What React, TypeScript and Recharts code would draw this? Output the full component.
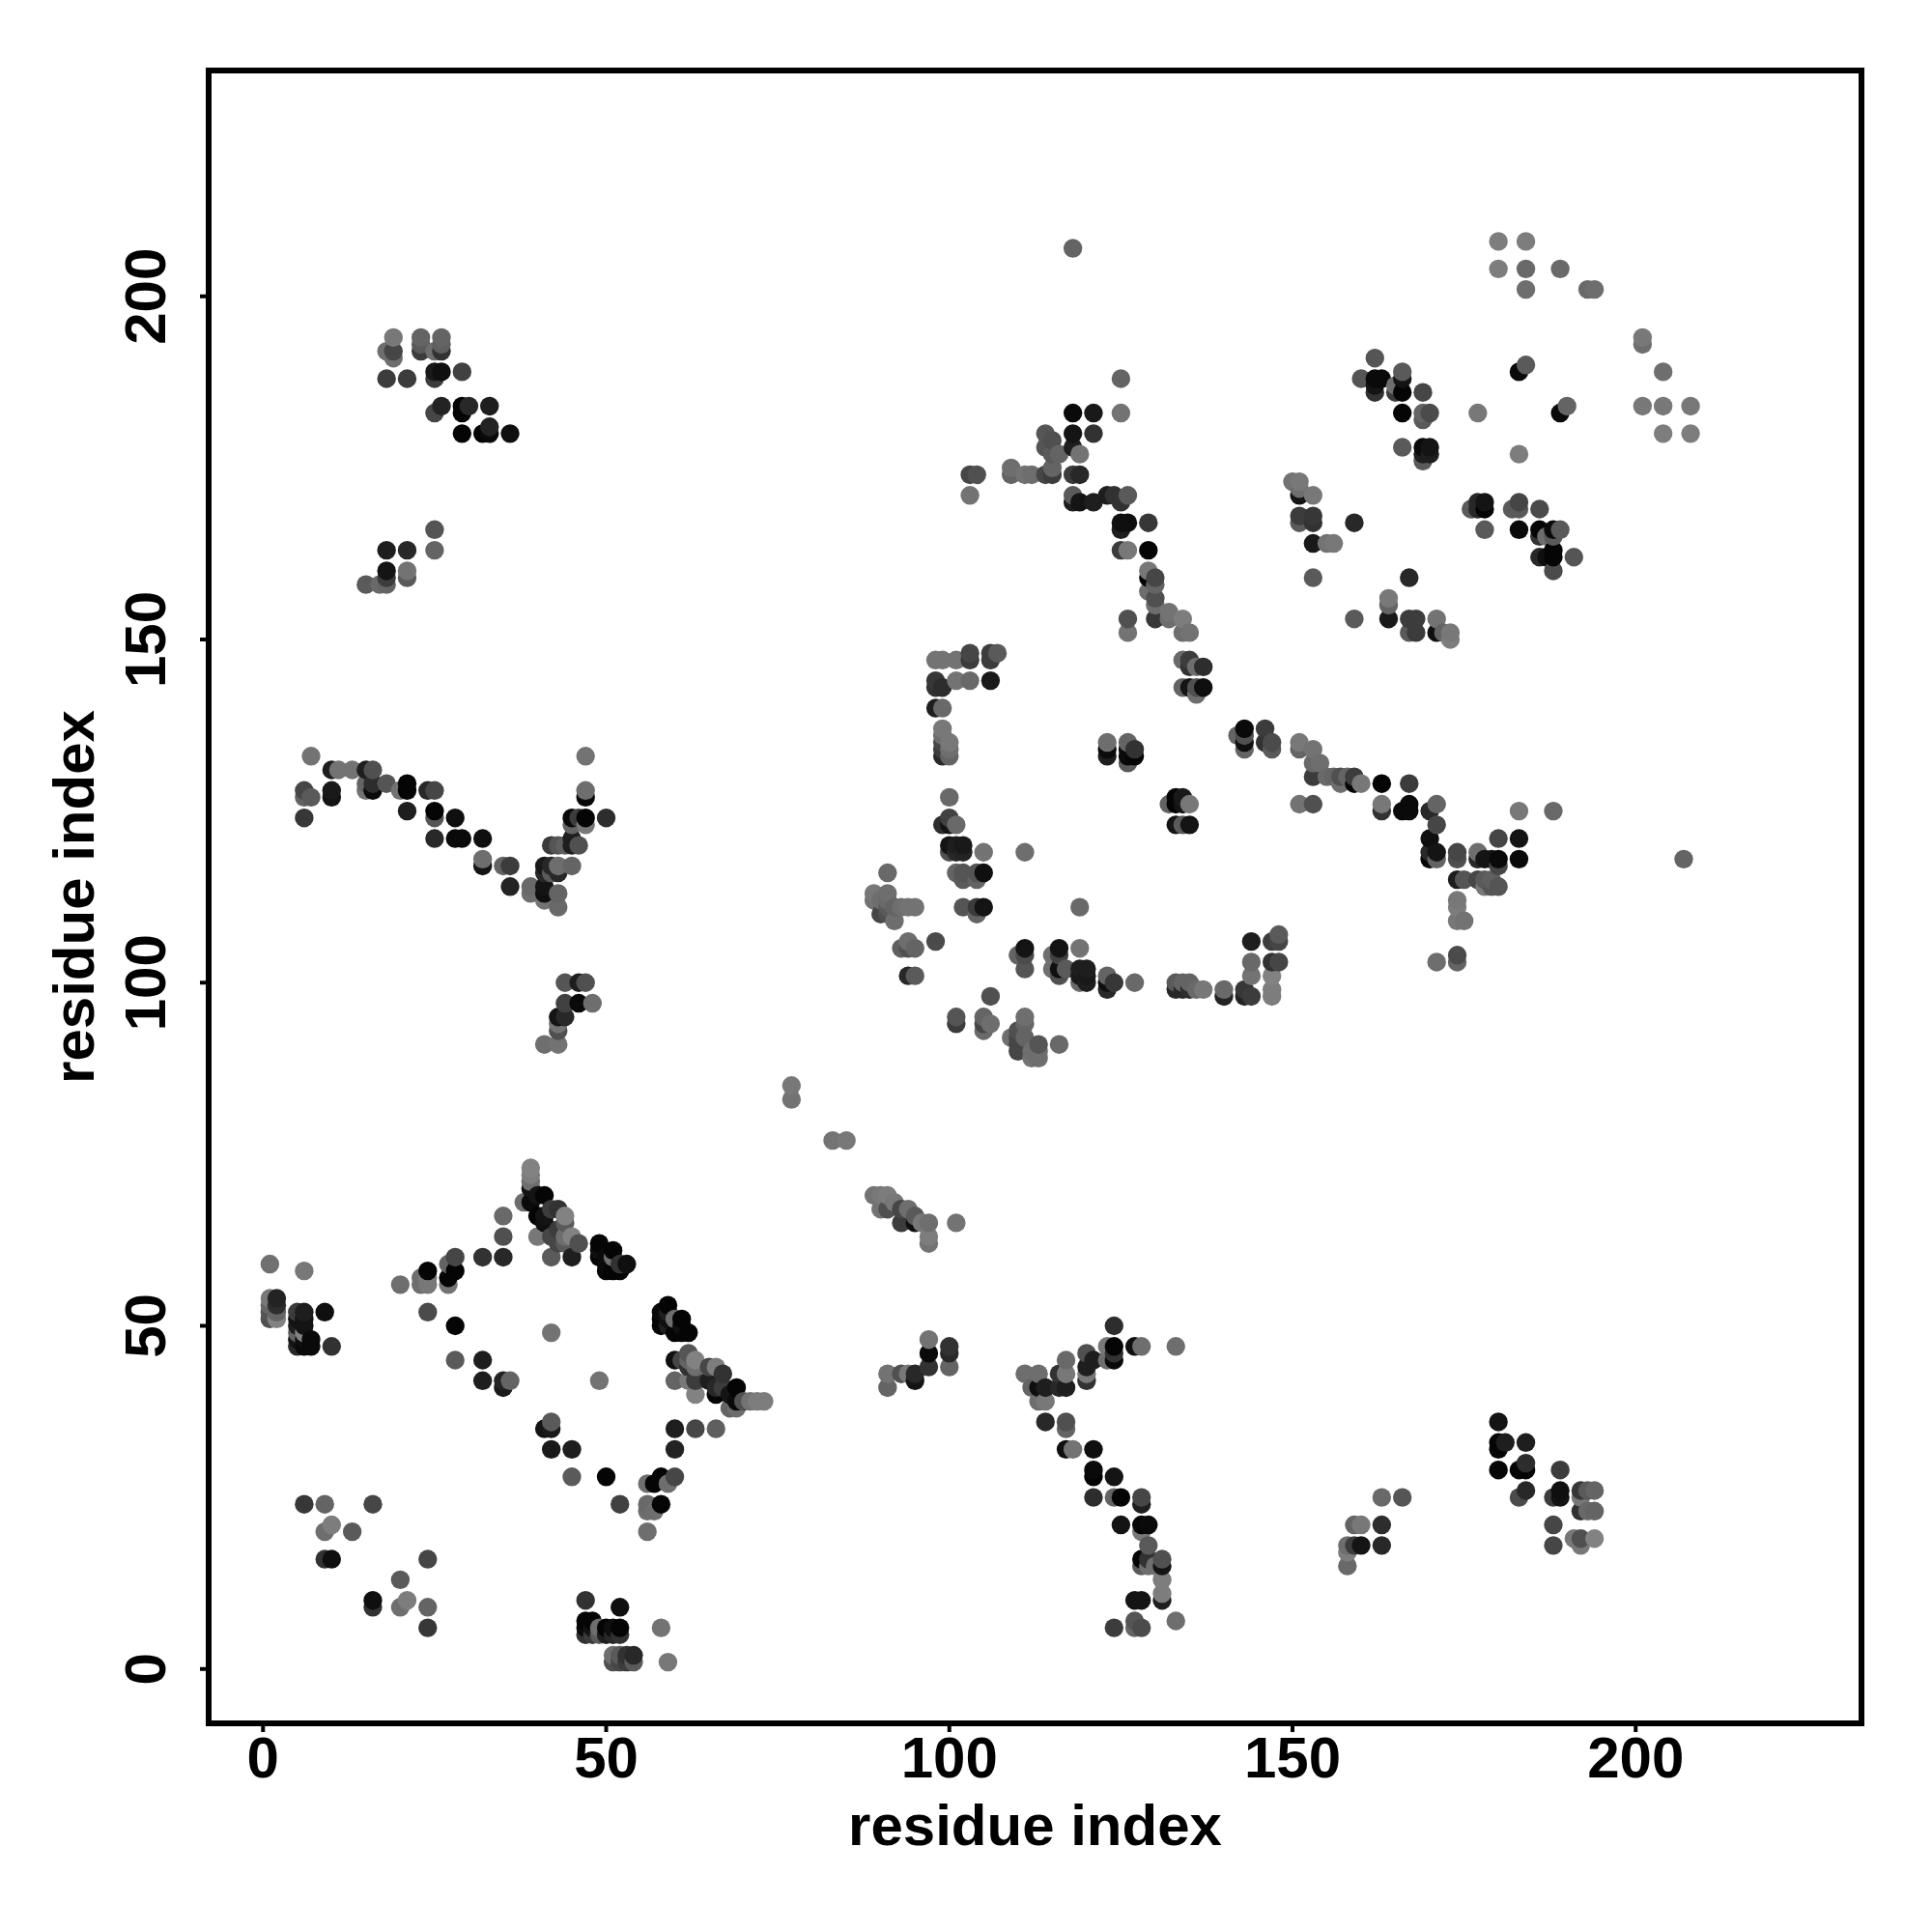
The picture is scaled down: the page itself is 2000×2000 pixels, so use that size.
import React from 'react';
import { ScatterChart, Scatter, XAxis, YAxis, ReferenceArea } from 'recharts';

type Contact = [number, number, number]; // residue i, residue j, grey level

const axisTicks = [0, 50, 100, 150, 200];
const domain: [number, number] = [-7.92, 232.9];

const bottomLeft: Contact[] = [
  [1,59,112],[6,58,120],[1,54,120],[1,53,100],[1,52,85],[1,51,80],[2,51,130],[2,52,100],[2,53,45],[2,54,35],
  [5,52,60],[6,52,30],[5,51,20],[6,51,20],[5,50,30],[6,50,20],[5,49,100],[5,48,20],[6,49,130],[5,47,40],[6,47,10],[7,48,10],[7,47,10],[6,48,15],
  [9,52,15],[10,47,50],[20,56,110],[23,56,110],[24,56,120],[23,57,110],[24,58,5],[24,57,120],[27,56,115],[27,57,5],[27,59,100],[28,58,5],[28,60,70],
  [24,52,75],[28,50,5],[28,45,90],[32,45,30],[32,42,30],[35,42,35],[35,41,25],[36,42,100],[32,60,50],[35,60,40],[35,63,80],[35,66,105],
  [40,63,120],[42,60,90],[42,49,115],[41,35,20],[42,36,90],[42,35,25],[42,32,25],
  [6,24,55],[9,24,100],[16,24,70],[9,20,110],[10,21,125],[13,20,90],[9,16,50],[10,16,15],[24,16,70],[20,13,90],[16,10,15],[16,9,50],[20,9,110],[21,10,125],[24,9,100],[24,6,55],
];

const firstStrand: Contact[] = [
  [39,73,130],[39,72,125],[39,71,110],[39,70,20],[38,68,110],[39,68,10],[40,69,20],[41,69,5],[40,66,5],[42,67,60],[43,67,50],[44,66,130],[44,65,90],[41,65,15],[42,63,70],[44,62,90],[45,63,130],[46,62,80],[45,60,30],[43,64,60],[41,66,20],[44,63,110],[43,62,70],
  [49,62,5],[49,61,15],[51,61,5],[49,60,5],[50,60,10],[51,60,110],[50,58,5],[51,58,5],[52,58,5],[52,59,50],[53,59,15],[50,59,10],
  [49,42,115],[59,53,5],[58,52,10],[58,50,5],[59,52,30],[59,51,15],[60,51,110],[61,51,5],[60,49,5],[61,49,5],[62,49,5],[58,51,5],[59,50,30],[61,50,15],
  [60,45,15],[62,46,85],[61,45,70],[62,45,100],[63,45,130],[63,44,110],[62,44,50],[60,42,100],[62,42,120],[63,42,60],[63,40,130],[65,44,70],[66,44,125],[67,43,50],[65,42,30],[66,41,40],[66,40,5],[69,41,5],[67,41,60],[68,40,20],[68,38,100],[69,38,110],[69,39,10],[70,39,80],[71,39,115],[72,39,125],[73,39,125],
  [60,35,30],[63,35,70],[66,35,95],[60,32,35],[45,32,30],[45,28,90],[50,28,5],[56,27,110],[58,28,5],[57,27,5],[59,27,110],[60,28,70],[52,24,65],[56,24,105],[56,23,110],[57,23,110],[58,24,5],[56,20,110],
  [47,10,50],[52,9,15],[47,7,5],[47,6,10],[47,5,50],[48,7,5],[48,6,20],[48,5,60],[49,6,110],[49,5,90],[50,6,5],[50,5,30],[51,6,15],[51,5,40],[52,6,5],[52,5,50],[58,6,115],
  [51,2,110],[51,1,80],[52,2,90],[52,1,70],[53,2,50],[53,1,60],[54,2,40],[54,1,90],[59,1,120],
];

const diagonalBand: Contact[] = [
  [89,69,115],[90,69,120],[91,69,125],[90,67,115],[91,67,80],[92,68,120],[93,67,70],[93,65,60],[94,67,110],[95,65,15],[95,66,90],[96,65,120],[97,62,115],[97,63,125],[97,65,110],[101,65,115],
  [83,77,115],[85,77,120],[77,85,120],[77,83,115],
  [91,43,115],[91,41,100],[93,43,80],[94,43,120],[95,43,40],[95,42,20],[97,48,115],[97,46,10],[97,44,50],[100,47,50],[100,46,40],[100,44,100],
];

const bottomRight: Contact[] = [
  [124,50,45],[124,47,5],[123,47,120],[123,45,110],[124,46,50],[124,45,10],[127,47,15],[128,47,110],[133,47,110],
  [120,46,80],[120,44,30],[121,45,30],[120,43,120],[120,42,50],[117,45,105],[116,43,50],[117,43,120],[117,41,30],[116,41,40],
  [111,43,110],[113,43,110],[112,41,100],[113,41,15],[114,41,30],[113,39,110],[114,39,120],[114,36,40],[117,36,80],[117,35,100],
  [117,32,15],[118,32,115],[121,32,15],[121,29,10],[121,28,5],[124,28,20],[121,25,45],[124,25,100],[125,25,5],[128,25,70],[128,24,30],
  [125,21,20],[128,21,5],[129,21,10],[128,20,120],[129,18,90],[128,16,5],[129,16,50],[128,15,90],[129,15,110],[131,16,80],[131,15,20],[130,15,110],
  [131,13,125],[131,11,125],[131,10,30],[127,10,20],[128,10,20],[133,7,110],[127,7,85],[127,6,100],[128,6,75],[124,6,60],
  [180,36,20],[180,33,5],[181,33,30],[180,32,5],[184,33,30],[180,29,5],[183,29,5],[184,29,5],[184,30,45],[184,26,40],[183,25,75],[189,29,60],[189,26,15],[188,25,60],[189,25,20],
  [192,26,55],[193,26,90],[194,26,100],[192,25,120],[192,23,50],[193,23,105],[194,23,100],[188,21,70],[188,18,70],[191,19,120],[192,19,80],[192,18,120],[194,19,130],
  [163,25,105],[166,25,85],[159,21,100],[160,21,120],[163,21,45],[158,18,110],[159,18,60],[160,18,20],[163,18,40],[158,17,125],[158,15,105],
];

const leftMiddle: Contact[] = [
  [7,133,115],[10,131,30],[11,131,115],[13,131,115],[15,131,30],[16,131,80],[6,128,70],[6,127,100],[7,127,90],[6,124,55],[10,128,25],[10,127,20],
  [15,129,100],[15,128,115],[16,129,45],[16,128,10],[18,129,85],[20,128,115],[21,129,5],[21,128,5],[21,125,30],
  [24,128,40],[25,128,70],[25,125,5],[25,124,85],[28,124,15],[25,121,40],[28,121,10],[29,121,10],[32,121,15],[32,117,20],[32,118,110],[35,117,100],[36,117,60],[36,114,35],
  [39,114,105],[39,113,110],[41,117,25],[42,117,40],[41,116,40],[42,116,90],[43,117,110],[43,116,40],[45,117,100],[41,114,20],[41,113,15],[41,112,115],[43,113,100],[43,111,105],
  [42,120,60],[43,120,85],[44,120,95],[45,121,30],[45,120,30],[46,120,80],[45,124,10],[46,124,60],[47,124,5],[45,123,100],[47,123,120],[50,124,45],[47,128,110],[47,127,10],[47,133,115],
  [44,100,85],[46,100,30],[47,100,80],[44,97,65],[46,97,10],[48,97,110],[43,95,20],[44,95,40],[43,94,115],[43,93,80],[41,91,110],[43,91,115],
];

const centralLoop: Contact[] = [
  [98,147,115],[99,147,115],[101,147,115],[103,148,70],[103,147,60],[106,148,60],[107,148,90],[106,147,60],
  [98,144,55],[98,143,50],[99,143,45],[101,144,115],[103,144,105],[106,144,25],[98,140,30],[99,140,105],
  [99,137,120],[99,136,110],[99,135,70],[99,134,60],[99,133,40],[100,135,120],[100,134,110],[100,133,100],
  [100,127,105],[100,124,65],[99,123,45],[100,123,20],[101,123,105],[100,120,20],[101,120,30],[102,120,25],[100,119,80],[101,119,40],[102,119,35],[105,119,115],[111,119,110],
  [102,116,85],[101,116,100],[102,115,90],[104,116,85],[105,116,15],[104,115,100],[102,111,85],[104,111,60],[105,111,20],[104,110,100],[119,111,105],
  [91,116,105],[89,113,120],[91,113,110],[89,112,115],[90,112,110],[91,112,105],[90,110,70],[91,111,90],[92,111,100],[92,109,110],[93,111,110],[94,111,115],[95,111,115],[91,110,80],
  [94,106,110],[93,105,95],[94,105,80],[95,105,100],[98,106,75],[94,101,40],[95,101,90],
  [111,105,20],[111,104,75],[110,104,100],[111,102,85],[116,105,20],[115,104,110],[116,104,65],[119,105,115],[115,102,110],[116,102,15],[116,101,80],[117,102,90],
  [119,102,30],[120,102,30],[119,101,25],[120,101,25],[119,100,105],[120,100,30],[123,101,100],[123,100,15],[123,99,40],[124,100,55],[127,100,105],
  [106,98,80],[101,95,85],[101,94,60],[105,95,100],[105,94,70],[106,94,110],[105,93,105],
  [111,95,110],[111,94,100],[110,93,80],[109,92,110],[110,92,70],[110,91,70],[111,92,100],[110,90,70],[112,90,110],[113,91,85],[112,89,115],[113,89,110],[113,90,110],[116,91,105],
  [133,100,90],[133,99,40],[134,100,100],[134,99,40],[135,100,100],[135,99,45],[136,99,105],[137,99,120],[140,99,105],[140,98,35],[143,99,55],[143,98,35],[144,98,60],[144,106,30],[144,103,105],[144,101,115],
  [147,106,60],[148,107,90],[148,106,70],[147,103,50],[148,103,70],[147,101,130],[147,99,125],[147,98,125],
];

const upperBridge: Contact[] = [
  [125,183,115],[125,188,100],[124,171,50],[126,171,90],[125,170,50],[125,167,15],[126,167,15],[125,166,30],[129,167,55],[125,163,60],[126,163,120],[129,163,5],
  [129,160,120],[129,159,5],[130,159,70],[129,157,110],[130,158,100],[130,156,80],[130,155,110],[130,153,55],[132,154,115],[132,153,110],[134,153,125],[134,151,110],[135,151,115],[126,153,80],[126,151,115],
  [134,147,105],[135,147,60],[135,146,50],[136,146,110],[137,146,45],[134,143,100],[135,143,20],[136,143,80],[137,143,15],[136,142,110],
  [143,137,10],[142,136,100],[143,136,80],[143,135,15],[143,134,100],[146,137,60],[146,135,50],[147,135,75],[147,134,90],
  [151,135,120],[151,134,100],[153,134,115],[153,132,105],[154,132,110],[153,130,60],[155,130,105],[156,130,100],[157,130,80],[157,129,110],[158,130,100],[159,130,60],[159,129,5],[160,129,120],[163,129,5],[167,129,60],
  [123,135,110],[123,134,10],[123,133,30],[126,135,100],[126,134,10],[126,133,10],[126,132,90],[127,134,50],[127,133,5],
  [132,126,100],[133,127,5],[134,127,25],[133,126,5],[135,126,120],[134,126,20],[133,123,20],[135,123,20],[134,123,90],
  [151,126,115],[153,126,80],[163,126,120],[163,125,50],[166,125,10],[167,126,10],[167,125,10],[170,125,40],[171,126,100],[171,123,70],
  [170,121,15],[170,119,40],[170,118,5],[171,119,20],[171,118,100],[174,119,70],[174,118,80],[177,119,110],[177,118,40],[178,118,20],[179,118,20],[180,118,10],[180,117,70],[180,121,70],[183,121,20],[183,118,10],
  [174,115,30],[175,115,85],[177,115,70],[178,115,90],[178,114,120],[179,115,95],[179,114,85],[180,114,85],[174,112,120],[174,111,125],[174,109,120],[175,109,115],[174,104,75],[174,103,100],[171,103,110],[183,125,120],[188,125,105],[207,118,100],
];

const topCentre: Contact[] = [
  [118,207,100],[118,183,10],[121,183,25],[121,180,50],[118,180,20],[118,178,30],[119,177,115],[114,180,85],[114,178,85],[115,177,90],[115,174,60],[118,174,60],[119,174,40],[118,171,90],[119,170,20],[121,170,30],[118,170,30],[123,171,30],[114,174,70],
  [104,174,80],[103,174,70],[103,171,115],[109,175,110],[109,174,100],[111,174,115],[112,174,110],[116,177,100],[115,175,100],[115,179,80],
];

const topRight: Contact[] = [
  [162,191,85],[160,188,85],[162,188,10],[163,188,10],[162,187,20],[162,186,50],[165,187,110],[165,186,60],[166,189,90],[166,188,20],[166,186,5],[169,186,70],
  [166,183,5],[169,183,100],[169,182,90],[170,183,75],[166,178,90],[169,178,10],[170,178,20],[169,177,30],[170,177,30],[169,176,90],
  [183,189,10],[184,190,90],[177,183,120],[189,183,10],[190,184,100],[183,177,125],
  [176,169,90],[177,170,40],[178,170,20],[177,169,40],[178,169,5],[182,169,90],[183,170,70],[183,169,90],[186,169,75],
  [178,166,90],[183,166,10],[186,166,5],[186,165,50],[187,165,110],[188,166,10],[189,166,90],[188,165,90],[186,162,40],[187,162,15],[188,162,5],[188,163,5],[191,162,85],[188,160,75],
  [150,173,115],[151,173,120],[151,172,110],[151,171,20],[153,171,120],[151,168,60],[153,168,55],[151,167,90],[153,167,50],[159,167,40],[153,164,25],[155,164,115],[156,164,120],[153,159,90],
  [159,153,90],[164,156,120],[164,155,100],[164,153,25],[167,159,40],[167,153,60],[168,153,60],[167,151,90],[168,151,60],[171,153,115],[171,151,15],[172,151,100],[173,151,120],[173,150,125],
  [180,208,125],[184,208,125],[180,204,125],[184,204,105],[184,201,110],[189,204,105],[193,201,105],[194,201,110],[201,194,120],[201,193,110],[204,189,110],[201,184,120],[204,184,120],[208,184,120],[204,180,125],[208,180,125],
];

const topLeft: Contact[] = [
  [19,194,120],[18,192,110],[19,192,70],[19,191,110],[23,194,100],[23,193,90],[23,192,60],[25,192,110],[26,194,100],[26,193,95],[26,192,50],
  [18,188,60],[21,188,60],[25,189,25],[26,189,15],[25,188,60],[29,189,65],[26,184,35],[25,183,70],[29,184,5],[29,183,5],[30,184,40],[33,184,30],
  [29,180,5],[32,180,5],[33,181,35],[33,180,10],[36,180,15],[25,166,85],[25,163,100],[18,163,30],[21,163,40],[18,160,20],[18,159,60],[21,160,115],[21,159,90],[18,158,100],[17,158,105],[15,158,90],
];

// points were plotted ordered by i then j, so later ones sit on top
const contacts = [...bottomLeft, ...firstStrand, ...diagonalBand, ...bottomRight, ...leftMiddle, ...centralLoop, ...upperBridge, ...topCentre, ...topRight, ...topLeft]
  .map(([x, y, shade]) => ({ x, y, shade }))
  .sort((a, b) => a.x - b.x || a.y - b.y);

const font = '"Liberation Sans", Arial, sans-serif';

const Dot = (props: any) => {
  const g = props.payload.shade;
  return <circle cx={props.cx} cy={props.cy} r={9.7} fill={`rgb(${g},${g},${g})`} />;
};

const XTick = ({ x, payload }: any) => (
  <text x={x} y={1840} textAnchor="middle" fontFamily={font} fontWeight="bold" fontSize={60} fill="#000">
    {payload.value}
  </text>
);

const YTick = ({ y, payload }: any) => (
  <text x={171} y={y} transform={`rotate(-90 171 ${y})`} textAnchor="middle" fontFamily={font} fontWeight="bold" fontSize={60} fill="#000">
    {payload.value}
  </text>
);

export default function App() {
  return (
    <div style={{ position: 'absolute', left: 0, top: 0, width: 2000, height: 2000, background: '#fff' }}>
      <ScatterChart width={2000} height={2000} margin={{ top: 73, right: 73, bottom: 0, left: 0 }}>
        <XAxis
          type="number"
          dataKey="x"
          domain={domain}
          ticks={axisTicks}
          axisLine={false}
          tickSize={9}
          tickLine={{ stroke: '#000', strokeWidth: 4 }}
          tick={<XTick />}
          height={216}
          allowDataOverflow
          label={{ value: 'residue index', position: 'insideBottom', offset: 90, fontFamily: font, fontWeight: 'bold', fontSize: 60, fill: '#000' }}
        />
        <YAxis
          type="number"
          dataKey="y"
          domain={domain}
          ticks={axisTicks}
          axisLine={false}
          tickSize={9}
          tickLine={{ stroke: '#000', strokeWidth: 4 }}
          tick={<YTick />}
          width={216}
          allowDataOverflow
          label={{ value: 'residue index', angle: -90, position: 'insideLeft', offset: 76, style: { textAnchor: 'middle' }, fontFamily: font, fontWeight: 'bold', fontSize: 60, fill: '#000' }}
        />
        <Scatter data={contacts} shape={<Dot />} isAnimationActive={false} />
        <ReferenceArea x1={domain[0]} x2={domain[1]} y1={domain[0]} y2={domain[1]} fill="none" fillOpacity={0} stroke="#000" strokeWidth={6} ifOverflow="visible" />
      </ScatterChart>
    </div>
  );
}
